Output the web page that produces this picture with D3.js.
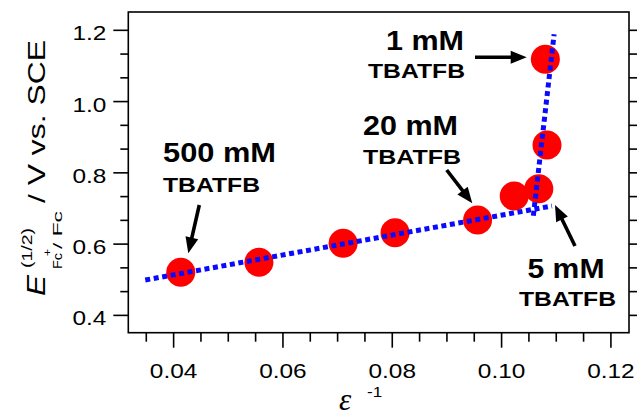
<!DOCTYPE html>
<html><head><meta charset="utf-8">
<script src="https://cdn.jsdelivr.net/npm/d3@7"></script>
<style>body{margin:0;background:#fff}svg{display:block}</style>
</head><body>
<script>
// ---- data ----
const invEps = [0.0414, 0.0557, 0.0711, 0.0806, 0.0957, 0.1024, 0.1069, 0.1084, 0.1081];
const eHalf  = [0.5195, 0.5476, 0.6009, 0.6307, 0.6663, 0.7337, 0.7542, 0.8768, 1.1173];
const fitLowX  = [0.0349, 0.1093];
const fitLowY  = [0.4979, 0.7056];
const fitHighX = [0.1059, 0.1097];
const fitHighY = [0.6784, 1.1875];
const xTicks = [0.04, 0.06, 0.08, 0.10, 0.12];
const xTickLabels = ["0.04", "0.06", "0.08", "0.10", "0.12"];
const yTicks = [0.4, 0.6, 0.8, 1.0, 1.2];
const yTickLabels = ["0.4", "0.6", "0.8", "1.0", "1.2"];
const annotConc = ["500 mM", "20 mM", "1 mM", "5 mM"];
const annotSalt = ["TBATFB", "TBATFB", "TBATFB", "TBATFB"];

// ---- layout ----
const W = 637, H = 417;
const L = 128.3, R = 629, T = 12, B = 332.7;
const STRETCH = 1.22;
const FONT = "Liberation Sans, Arial, Helvetica, sans-serif";

const svg = d3.select("body").append("svg").attr("width", W).attr("height", H)
  .style("font-family", FONT);

const x = d3.scaleLinear().domain([0.0318, 0.1234]).range([L, R]);
const y = d3.scaleLinear().domain([0.35, 1.25]).range([B, T]);

function stretch(sel, k) {
  sel.each(function () {
    const len = this.getComputedTextLength();
    d3.select(this).attr("textLength", len * (k || STRETCH)).attr("lengthAdjust", "spacingAndGlyphs");
  });
}

// minor ticks
const xMinor = d3.range(0.035, 0.1226, 0.005).filter(v => !xTicks.some(t => Math.abs(t - v) < 1e-6));
const yMinor = d3.range(0.4, 1.21, 0.2 / 3).filter(v => !yTicks.some(t => Math.abs(t - v) < 1e-6));

function styleAxis(g) {
  g.select(".domain").remove();
  g.selectAll("line").attr("stroke", "#000").attr("stroke-width", 1.6);
}

// bottom
svg.append("g").attr("transform", `translate(0,${B})`)
  .call(d3.axisBottom(x).tickValues(xMinor).tickSize(9).tickFormat(""))
  .call(styleAxis);
const gxb = svg.append("g").attr("transform", `translate(0,${B})`)
  .call(d3.axisBottom(x).tickValues(xTicks).tickSize(15).tickPadding(16)
    .tickFormat((d, i) => xTickLabels[i]))
  .call(styleAxis);
gxb.selectAll("text").attr("font-size", 20).attr("fill", "#000").style("font-family", FONT).call(stretch);

// left
svg.append("g").attr("transform", `translate(${L},0)`)
  .call(d3.axisLeft(y).tickValues(yMinor).tickSize(8).tickFormat(""))
  .call(styleAxis);
const gyl = svg.append("g").attr("transform", `translate(${L},0)`)
  .call(d3.axisLeft(y).tickValues(yTicks).tickSize(15).tickPadding(7)
    .tickFormat((d, i) => yTickLabels[i]))
  .call(styleAxis);
gyl.selectAll("text").attr("font-size", 20).attr("dy", "0.5em").attr("fill", "#000").style("font-family", FONT).call(stretch);

// right
svg.append("g").attr("transform", `translate(${R},0)`)
  .call(d3.axisRight(y).tickValues(yTicks.concat(yMinor)).tickSize(9).tickFormat(""))
  .call(styleAxis);

// frame
svg.append("rect").attr("x", L).attr("y", T).attr("width", R - L).attr("height", B - T)
  .attr("fill", "none").attr("stroke", "#000").attr("stroke-width", 1.6);

// points
const pts = invEps.map((v, i) => ({ x: v, y: eHalf[i] }));
svg.append("g").selectAll("circle").data(pts).join("circle")
  .attr("cx", d => x(d.x)).attr("cy", d => y(d.y)).attr("r", 14.5).attr("fill", "#ff0000");

// fit lines (dotted)
const line = d3.line().x(d => x(d[0])).y(d => y(d[1]));
[[fitLowX, fitLowY], [fitHighX, fitHighY]].forEach(([xs, ys]) => {
  svg.append("path").datum(xs.map((v, i) => [v, ys[i]]))
    .attr("d", line).attr("fill", "none").attr("stroke", "#0a0aff")
    .attr("stroke-width", 5).attr("stroke-dasharray", "5 3.6");
});

// annotations (pixel layout)
const annLayout = [
  { tx: 163, ty: 162, tl: 113, sx: 163, sy: 192, sl: 97, anchor: "start", a0: [199.3, 205], a1: [188.3, 253.3] },
  { tx: 363, ty: 135, tl: 95, sx: 363, sy: 164, sl: 98, anchor: "start", a0: [446.7, 170], a1: [472.3, 203.3] },
  { tx: 464, ty: 50, tl: 78, sx: 465, sy: 78, sl: 97, anchor: "end", a0: [475, 57.3], a1: [526.7, 57.3] },
  { tx: 566, ty: 278, tl: 77, sx: 567.5, sy: 306, sl: 97, anchor: "middle", a0: [575, 246], a1: [555, 205] }
];
const ga = svg.append("g");
annLayout.forEach((a, i) => {
  ga.append("text").attr("x", a.tx).attr("y", a.ty).attr("text-anchor", a.anchor)
    .attr("font-size", 27).attr("font-weight", "bold").attr("textLength", a.tl)
    .attr("lengthAdjust", "spacingAndGlyphs").text(annotConc[i]);
  ga.append("text").attr("x", a.sx).attr("y", a.sy).attr("text-anchor", a.anchor)
    .attr("font-size", 21).attr("font-weight", "bold").attr("textLength", a.sl)
    .attr("lengthAdjust", "spacingAndGlyphs").text(annotSalt[i]);
  const dx = a.a1[0] - a.a0[0], dy = a.a1[1] - a.a0[1];
  const len = Math.hypot(dx, dy), ux = dx / len, uy = dy / len;
  const hl = 16, hw = 6.5;
  const bx = a.a1[0] - ux * hl, by = a.a1[1] - uy * hl;
  ga.append("line").attr("x1", a.a0[0]).attr("y1", a.a0[1]).attr("x2", bx + ux * 2).attr("y2", by + uy * 2)
    .attr("stroke", "#000").attr("stroke-width", 3.6);
  ga.append("polygon").attr("points", [
    [a.a1[0], a.a1[1]], [bx - uy * hw, by + ux * hw], [bx + uy * hw, by - ux * hw]
  ].map(p => p.join(",")).join(" ")).attr("fill", "#000");
});

// x title
svg.append("text").attr("x", 339).attr("y", 410).attr("font-size", 31)
  .attr("font-style", "italic").style("font-family", "Liberation Serif, Times New Roman, serif")
  .text("\u03B5");
svg.append("text").attr("x", 367).attr("y", 397).attr("font-size", 14).text("-1").call(stretch);

// y title (rotated pieces)
const yl = svg.append("g");
function rt(bx, sy, size, txt, len, opts) {
  const t = yl.append("text").attr("transform", `translate(${bx},${sy}) rotate(-90)`)
    .attr("font-size", size).attr("textLength", len).attr("lengthAdjust", "spacingAndGlyphs").text(txt);
  if (opts && opts.italic) t.attr("font-style", "italic");
  return t;
}
rt(45, 296, 26, "E", 21, { italic: true });
rt(32, 268, 15, "(1/2)", 40);
rt(62, 269, 13, "Fc", 16);
rt(51, 256, 11, "+", 7);
rt(62, 249, 13, "/ Fc", 38);
rt(45, 203, 24, "/ V vs. SCE", 163);
</script>
</body></html>
